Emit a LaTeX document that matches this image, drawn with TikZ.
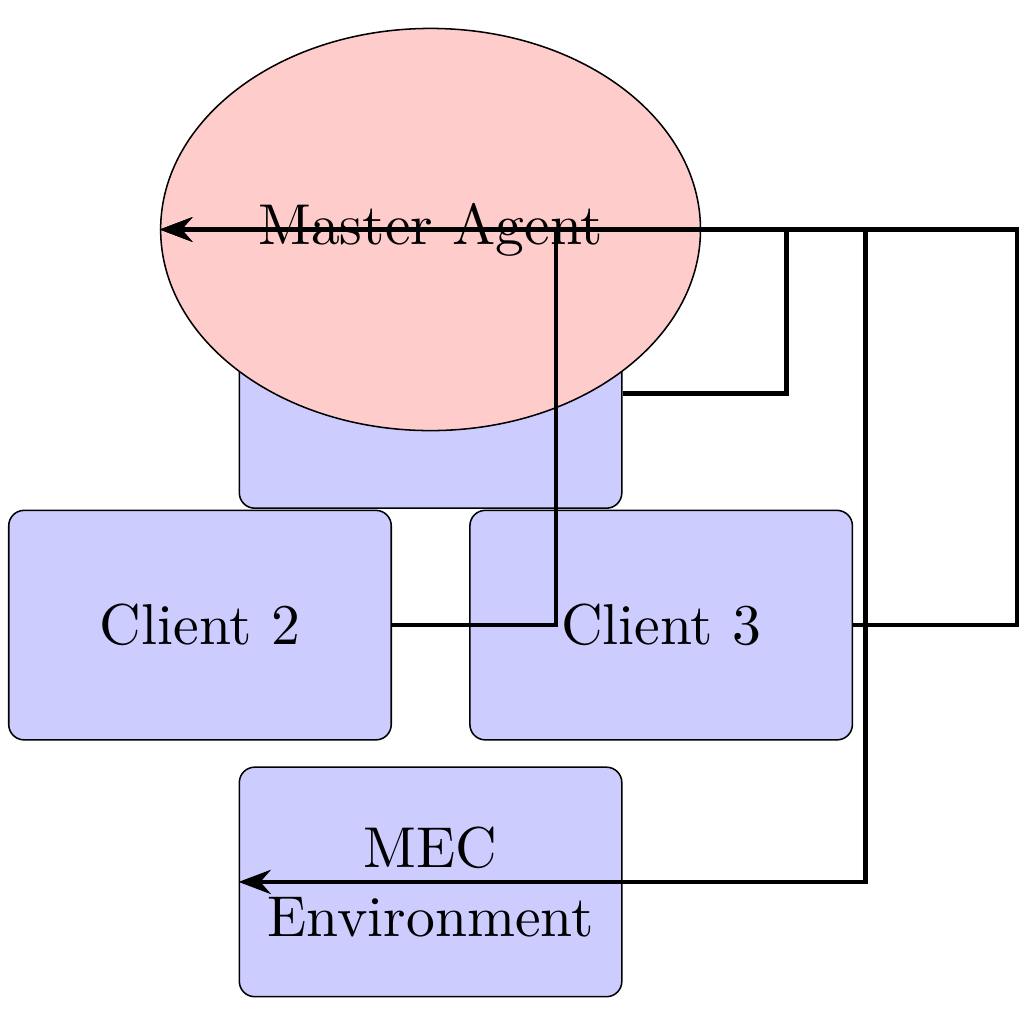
\documentclass[tikz,border=0pt]{standalone}
\usepackage{fontspec}
\setmainfont{lmroman10-regular.otf}
\usetikzlibrary{shapes.geometric,arrows.meta}

\begin{document}
\begin{tikzpicture}[box/.style={draw,rounded corners,fill=blue!20,minimum width=3.5cm,minimum height=2.1cm,font=\fontsize{15}{18}\selectfont,align=center},
agent/.style={draw,ellipse,fill=red!20,minimum width=4.94cm,minimum height=3.68cm,font=\fontsize{15}{18}\selectfont},
link/.style={-Stealth,very thick}]
\useasboundingbox (-3.94,2.1) rectangle (5.43,-7.27);
\node[box] (client1) at (0,-1.5) {Client 1};
\node[agent] (master) at (0,0) {Master Agent};
\node[box] (client2) at (-2.11,-3.62) {Client 2};
\node[box] (client3) at (2.11,-3.62) {Client 3};
\node[box,text width=3.1cm] (mec) at (0,-5.97) {MEC Environment};
\draw[link] (client1.east) -- ++(1.5,0) |- (master.west);
\draw[link] (client2.east) -- ++(1.5,0) |- (master.west);
\draw[link] (client3.east) -- ++(1.5,0) |- (master.west);
\draw[link] (master.east) -- ++(1.5,0) |- (mec.west);
\end{tikzpicture}
\end{document}
